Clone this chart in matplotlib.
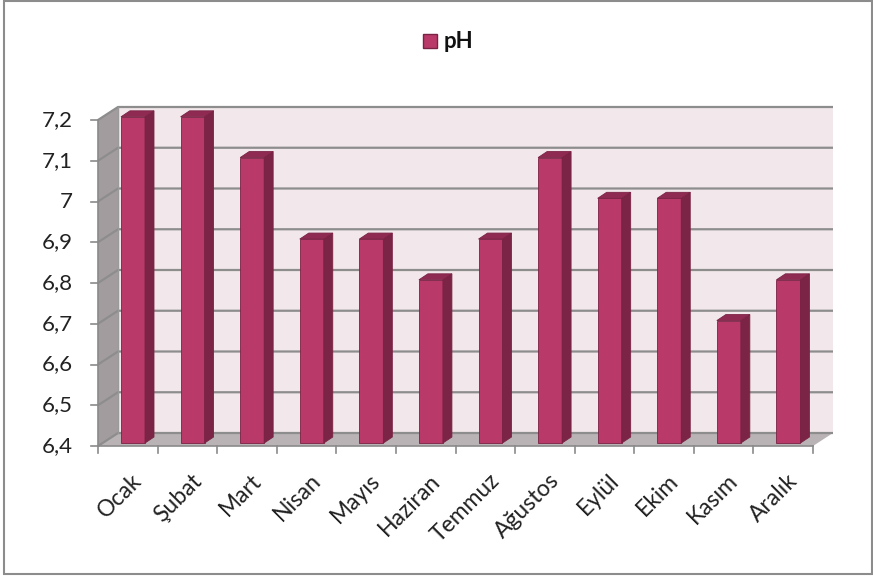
import matplotlib
matplotlib.use('Agg')
import matplotlib.pyplot as plt
from matplotlib.patches import Polygon, Rectangle

months = ['Ocak', 'Şubat', 'Mart', 'Nisan', 'Mayıs', 'Haziran',
          'Temmuz', 'Ağustos', 'Eylül', 'Ekim', 'Kasım', 'Aralık']
ph = [7.2, 7.2, 7.1, 6.9, 6.9, 6.8, 6.9, 7.1, 7.0, 7.0, 6.7, 6.8]
yticks = [6.4, 6.5, 6.6, 6.7, 6.8, 6.9, 7.0, 7.1, 7.2]
ytick_labels = ['6,4', '6,5', '6,6', '6,7', '6,8', '6,9', '7', '7,1', '7,2']

plt.rcParams['font.family'] = ['Lato', 'DejaVu Sans']

W, H = 873, 576
fig = plt.figure(figsize=(W / 100, H / 100), dpi=100)

# front plane of the plot in pixels
x0, x1 = 98, 813
ytop, ybot = 120, 446
ax = fig.add_axes([x0 / W, 1 - ybot / H, (x1 - x0) / W, (ybot - ytop) / H])
ymin, ymax = 6.4, 7.2
ax.set_xlim(0, 12)
ax.set_ylim(ymin, ymax)
ax.axis('off')

px_x = (x1 - x0) / 12.0
px_y = (ybot - ytop) / (ymax - ymin)
# depth offset of the back wall
dx = 20 / px_x
dy = 13 / px_y

wall_col = '#f2e7ea'
side_col = '#a39c9e'
floor_col = '#bab3b5'
grid_col = '#8d8d8d'

# back wall
ax.add_patch(Polygon([(dx, ymin + dy), (12 + dx, ymin + dy), (12 + dx, ymax + dy), (dx, ymax + dy)],
                     closed=True, fc=wall_col, ec='none', clip_on=False, zorder=1))
# left side wall
ax.add_patch(Polygon([(0, ymin), (dx, ymin + dy), (dx, ymax + dy), (0, ymax)],
                     closed=True, fc=side_col, ec='none', clip_on=False, zorder=1))
# floor
ax.add_patch(Polygon([(0, ymin), (12, ymin), (12 + dx, ymin + dy), (dx, ymin + dy)],
                     closed=True, fc=floor_col, ec='none', clip_on=False, zorder=1))

# gridlines
for v in yticks:
    ax.plot([0, dx, 12 + dx], [v, v + dy, v + dy], color=grid_col, lw=1.6,
            clip_on=False, zorder=2, solid_capstyle='butt')
ax.plot([dx, dx], [ymin + dy, ymax + dy], color='#9a9a9a', lw=1, clip_on=False, zorder=2)

# front axes lines and ticks
ax.plot([0, 0], [ymin, ymax], color='#8a8a8a', lw=1.2, clip_on=False, zorder=3)
ax.plot([0, 12], [ymin, ymin], color='#8a8a8a', lw=1.2, clip_on=False, zorder=3)
tk = 7 / px_x
for v, lab in zip(yticks, ytick_labels):
    ax.plot([-tk, 0], [v, v], color='#8a8a8a', lw=1.2, clip_on=False, zorder=3)
    ax.text(-25 / px_x, v, lab, ha='right', va='center', fontsize=16, color='#222222')
tky = 7 / px_y
for i in range(13):
    ax.plot([i, i], [ymin - tky, ymin], color='#8a8a8a', lw=1.2, clip_on=False, zorder=3)
for i, m in enumerate(months):
    ax.text(i + 0.56, ymin - 24 / px_y, m, rotation=45, ha='right', va='top',
            rotation_mode='anchor', fontsize=16.5, color='#222222')

# bars
front_col = '#b93a69'
side_bar = '#7b2445'
top_bar = '#8f2b53'
edge = '#7a2244'
bw = 24 / px_x
fy = 4 / px_y
sx = 9 / px_x   # bar depth
sy = 6 / px_y
for i, v in enumerate(ph):
    left = i + 23 / px_x
    right = left + bw
    b = ymin + fy - 0.0025
    t = v + fy - 0.002
    ax.add_patch(Polygon([(left, b), (right, b), (right, t), (left, t)], closed=True,
                         fc=front_col, ec=edge, lw=0.6, clip_on=False, zorder=5))
    ax.add_patch(Polygon([(right, b), (right + sx, b + sy), (right + sx, t + sy), (right, t)],
                         closed=True, fc=side_bar, ec=edge, lw=0.6, clip_on=False, zorder=5))
    ax.add_patch(Polygon([(left, t), (right, t), (right + sx, t + sy), (left + sx, t + sy)],
                         closed=True, fc=top_bar, ec=edge, lw=0.6, clip_on=False, zorder=5))

# legend
fig.patches.append(Rectangle((423 / W, 1 - 48 / H), 14 / W, 14 / H, transform=fig.transFigure,
                             fc=front_col, ec=edge, lw=1))
fig.text(444 / W, 1 - 41 / H, 'pH', ha='left', va='center', fontsize=16, fontweight='bold',
         color='#111111')

# outer border
fig.patches.append(Rectangle((4 / W, 2 / H), (W - 5) / W, (H - 3) / H, transform=fig.transFigure,
                             fc='none', ec='#8c8c8c', lw=1.5))

fig.savefig('out.png', dpi=100)
